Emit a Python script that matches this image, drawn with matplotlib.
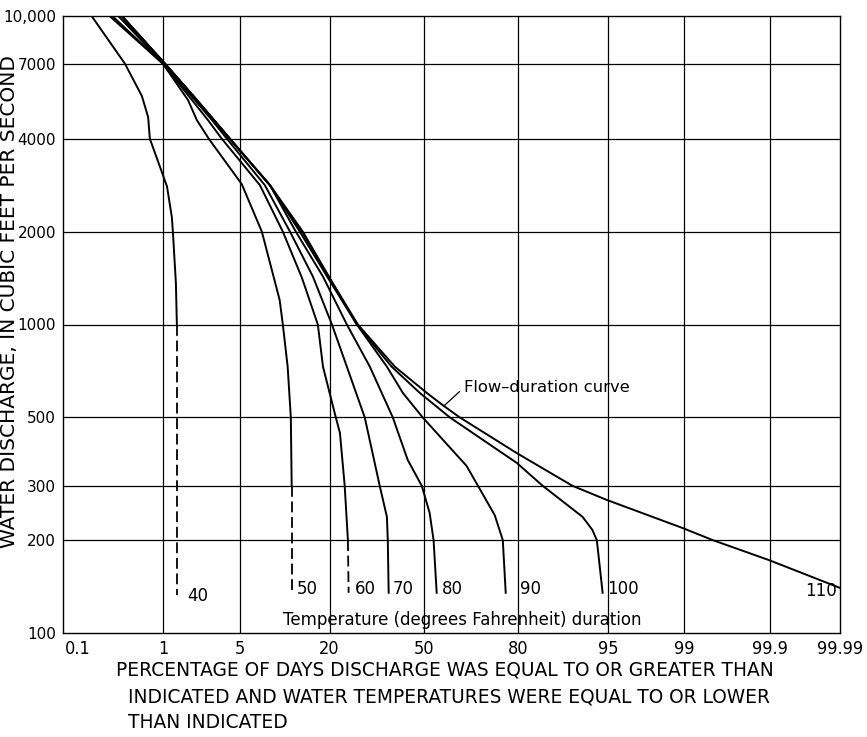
import math
from statistics import NormalDist
import numpy as np
import matplotlib
matplotlib.use("Agg")
import matplotlib.pyplot as plt
from matplotlib import font_manager as fm
from matplotlib.ticker import NullLocator, FixedLocator, FixedFormatter

# percent of days (probability scale) vs discharge (cfs)
pct_40 = [0.15, 0.38, 0.59, 0.69, 0.72, 0.92, 1.09, 1.22, 1.25, 1.34, 1.37]
cfs_40 = [10000, 7000, 5500, 4700, 4000, 3250, 2800, 2230, 2000, 1360, 1000]

pct_50 = [0.25, 0.99, 1.76, 2.13, 2.74, 5.2, 7.4, 9.9, 10.4, 11.2, 11.75, 11.9]
cfs_50 = [10000, 7000, 5340, 4600, 4000, 2850, 2000, 1200, 1000, 730, 500, 300]

pct_60 = [0.27, 0.99, 1.92, 2.69, 3.56, 7.16, 10.4, 13.8, 17.2, 18.4, 21.6, 22.7, 24.0, 24.9]
cfs_60 = [10000, 7000, 5340, 4600, 4000, 2830, 2000, 1420, 1000, 730, 500, 445, 300, 200]

pct_70 = [0.32, 1.0, 2.04, 2.92, 3.93, 7.78, 11.6, 16.1, 20.6, 24.6, 29.9, 34.7, 37.1, 37.4, 37.7]
cfs_70 = [10000, 7000, 5340, 4600, 4000, 2830, 2000, 1430, 1000, 730, 500, 300, 238, 200, 135]

pct_80 = [0.32, 1.04, 2.13, 3.04, 4.16, 8.46, 12.65, 18.4, 24.6, 31.5, 39.1, 44.3, 49.3, 52.1, 53.5, 54.6]
cfs_80 = [10000, 7000, 5340, 4600, 4000, 2830, 2000, 1430, 1000, 730, 500, 364, 300, 245, 200, 135]

pct_90 = [0.35, 1.04, 2.13, 3.04, 4.16, 8.46, 13.4, 19.4, 27.5, 37.1, 42.6, 49.6, 64.9,
          68.6, 73.7, 76.0, 76.8]
cfs_90 = [10000, 7000, 5340, 4600, 4000, 2830, 2000, 1430, 1000, 730, 600, 500, 348,
          300, 241, 200, 135]

pct_100 = [0.35, 1.04, 2.13, 3.04, 4.16, 8.46, 13.8, 19.8, 27.5, 38.7, 48.6, 59.2,
           79.7, 85.6, 92.2, 93.4, 93.9, 94.5]
cfs_100 = [10000, 7000, 5340, 4600, 4000, 2830, 2000, 1430, 1000, 730, 600, 500,
           356, 300, 238, 216, 200, 135]

pct_flow = [0.35, 1.04, 2.13, 3.04, 4.16, 8.46, 14.0, 19.8, 27.8, 39.8, 51.1, 56.7, 62.6,
            79.7, 90.8, 94.9, 98.96, 99.51, 99.90, 99.99]
cfs_flow = [10000, 7000, 5340, 4600, 4000, 2830, 2000, 1430, 1000, 730, 600, 548, 500,
            383, 300, 270, 219, 200, 172, 140]

# dashed extensions (estimated part) of the colder curves
dash_pct = [(1.37, 1.37), (11.9, 11.9), (24.9, 25.1)]
dash_cfs = [(1000, 133), (300, 135), (200, 135)]

temps = ["40", "50", "60", "70", "80", "90", "100", "110"]

x_ticks = [0.1, 1, 5, 20, 50, 80, 95, 99, 99.9, 99.99]
x_ticklabels = ["0.1", "1", "5", "20", "50", "80", "95", "99", "99.9", "99.99"]
x_grid = [1, 5, 20, 50, 80, 95, 99, 99.9]
y_ticks = [100, 200, 300, 500, 1000, 2000, 4000, 7000, 10000]
y_ticklabels = ["100", "200", "300", "500", "1000", "2000", "4000", "7000", "10,000"]

_nd = NormalDist()


def prob_fwd(p):
    p = np.clip(np.asarray(p, dtype=float), 1e-7, 100 - 1e-7) / 100.0
    return np.vectorize(_nd.inv_cdf, otypes=[float])(p)


def prob_inv(z):
    z = np.asarray(z, dtype=float)
    return np.vectorize(lambda v: 50.0 * (1 + math.erf(v / math.sqrt(2))),
                        otypes=[float])(z)


def find_narrow():
    wanted = ["liberationsansnarrow-regular", "dejavusanscondensed.",
              "robotocondensed-regular", "opensans_condensed-regular"]
    files = [f.fname for f in fm.fontManager.ttflist]
    for w in wanted:
        for fn in files:
            if w in fn.lower().replace(" ", ""):
                return fn
    return None


narrow_file = find_narrow()

fig = plt.figure(figsize=(8.67, 7.37), dpi=100)
ax = fig.add_axes([63 / 867, 1 - 633 / 737, 777 / 867, 617 / 737])

ax.set_xscale("function", functions=(prob_fwd, prob_inv))
ax.set_yscale("log")
ax.set_xlim(0.0634, 99.99)
ax.set_ylim(100, 10000)

for v in x_grid:
    ax.axvline(v, color="black", lw=0.9, zorder=1)
for v in y_ticks[1:-1]:
    ax.axhline(v, color="black", lw=0.9, zorder=1)

curves = [(pct_40, cfs_40), (pct_50, cfs_50), (pct_60, cfs_60), (pct_70, cfs_70),
          (pct_80, cfs_80), (pct_90, cfs_90), (pct_100, cfs_100), (pct_flow, cfs_flow)]
for px, cy in curves:
    ax.plot(px, cy, color="black", lw=1.4, zorder=3, solid_joinstyle="round")

for px, cy in zip(dash_pct, dash_cfs):
    ax.plot(px, cy, color="black", lw=1.3, dashes=(6, 2.6), zorder=3)

# temperature labels at the lower end of each curve
ends = [(dash_pct[0][1], dash_cfs[0][1]), (dash_pct[1][1], dash_cfs[1][1]),
        (dash_pct[2][1], dash_cfs[2][1]), (pct_70[-1], cfs_70[-1]),
        (pct_80[-1], cfs_80[-1]), (pct_90[-1], cfs_90[-1]),
        (pct_100[-1], cfs_100[-1]), (pct_flow[-1], cfs_flow[-1])]
offs = [(10, -1), (5, 4), (6, 4), (4, 4), (5, 4), (14, 4), (4, 4), (-3, -3)]
for t, (ex, ey), (dx, dy) in zip(temps, ends, offs):
    ax.annotate(t, xy=(ex, ey), xytext=(dx, dy), textcoords="offset pixels",
                ha="right" if t == "110" else "left", va="center",
                fontsize=12, zorder=4)

ax.annotate("Flow\u2013duration curve", xy=(57.1, 544), xytext=(64.2, 627),
            fontsize=11.8, ha="left", va="center",
            arrowprops=dict(arrowstyle="-", color="black", lw=0.9,
                            relpos=(0, 0.5), shrinkA=2, shrinkB=0))

ax.text(0.5135, 0.021, "Temperature (degrees Fahrenheit) duration",
        transform=ax.transAxes, ha="center", va="center", fontsize=12)

ax.xaxis.set_major_locator(FixedLocator(x_ticks))
ax.xaxis.set_major_formatter(FixedFormatter(x_ticklabels))
ax.xaxis.set_minor_locator(NullLocator())
ax.yaxis.set_major_locator(FixedLocator(y_ticks))
ax.yaxis.set_major_formatter(FixedFormatter(y_ticklabels))
ax.yaxis.set_minor_locator(NullLocator())
ax.tick_params(axis="both", length=0)
ax.tick_params(axis="y", pad=5, labelsize=11)
ax.tick_params(axis="x", pad=5)
for lab in ax.get_xticklabels():
    if narrow_file:
        lab.set_fontproperties(fm.FontProperties(fname=narrow_file, size=13))
    else:
        lab.set_fontsize(11.5)

for s in ax.spines.values():
    s.set_linewidth(1.0)

fig.text(10 / 867, 1 - 302 / 737, "WATER DISCHARGE, IN CUBIC FEET PER SECOND",
         rotation=90, ha="center", va="center", fontsize=14.5)
fig.text(116 / 867, 1 - 670 / 737,
         "PERCENTAGE OF DAYS DISCHARGE WAS EQUAL TO OR GREATER THAN",
         ha="left", va="center", fontsize=13.4)
fig.text(128 / 867, 1 - 697 / 737,
         "INDICATED AND WATER TEMPERATURES WERE EQUAL TO OR LOWER",
         ha="left", va="center", fontsize=13.4)
fig.text(128 / 867, 1 - 722 / 737, "THAN INDICATED",
         ha="left", va="center", fontsize=13.4)

fig.savefig("out.png", dpi=100)
